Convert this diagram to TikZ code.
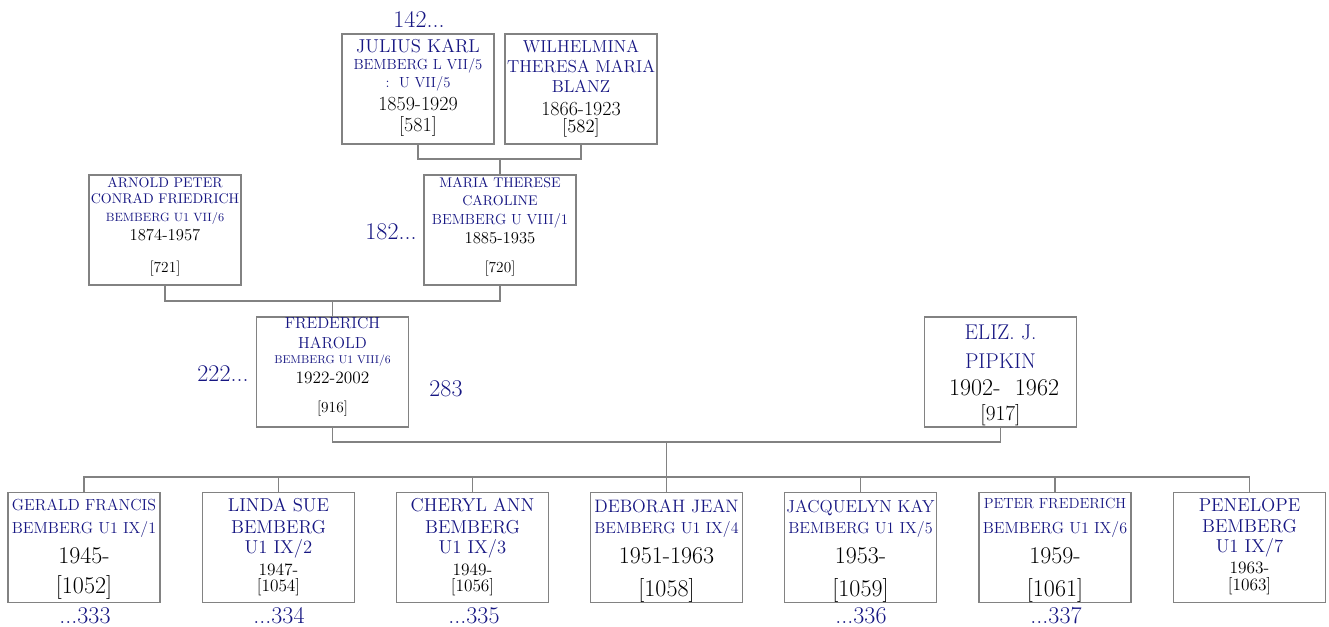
\documentclass[tikz,border=0pt]{standalone}
\usepackage{tikz}
\definecolor{namecol}{RGB}{22,22,130}
\definecolor{boxcol}{RGB}{130,130,130}
\newdimen\pxu \pxu=0.75pt
% name line / date line: size (pt), baseline gap (px), text
\newcommand\nm[3]{\fontsize{#1}{#2\pxu}\selectfont
  \makebox[\linewidth]{\textcolor{namecol}{#3}}\par}
\newcommand\dt[3]{\fontsize{#1}{#2\pxu}\selectfont #3\par}
\newcommand\card[1]{\parbox[c][110\pxu][t]{152\pxu}{\centering
  \lineskiplimit=-\maxdimen\prevdepth=0pt #1}}
\tikzset{
  person/.style={draw=boxcol, line width=1pt, inner sep=0pt},
  link/.style={draw=boxcol, line width=1pt},
  numlab/.style={text=namecol, font=\fontsize{18}{20}\selectfont,
    anchor=base, inner sep=0pt}
}

\begin{document}
\begin{tikzpicture}[x=0.75pt, y=-0.75pt]
  \useasboundingbox (0,0) rectangle (1329,627);

  % Grandparents.
  \node[person] (julius) at (418,89) {\card{\nm{14}{19}{JULIUS KARL}%
    \nm{11}{17}{BEMBERG L VII/5}\nm{11}{18}{:~~U VII/5}%
    \dt{15}{23}{1859-1929}\dt{15}{21}{[581]}}};
  \node[person] (wilhelmina) at (581,89) {\card{\nm{13}{19}{WILHELMINA}%
    \nm{13}{20}{THERESA MARIA}\nm{13}{20}{BLANZ}%
    \dt{15}{23}{1866-1923}\dt{14}{17}{[582]}}};

  % Parents.
  \node[person] (arnold) at (165,230) {\card{\nm{10.5}{13}{ARNOLD PETER}%
    \nm{10.5}{16}{CONRAD FRIEDRICH}\nm{9}{18}{BEMBERG U1 VII/6}%
    \dt{12.5}{19}{1874-1957}\dt{11.5}{32}{[721]}}};
  \node[person] (maria) at (500,230) {\card{\nm{10.5}{13}{MARIA THERESE}%
    \nm{10.5}{18}{CAROLINE}\nm{11}{19}{BEMBERG U VIII/1}%
    \dt{12.5}{19}{1885-1935}\dt{11.5}{29}{[720]}}};

  % Couple.
  \node[person] (frederich) at (332.5,372) {\card{\nm{12}{12}{FREDERICH}%
    \nm{12}{19}{HAROLD}\nm{8.5}{15}{BEMBERG U1 VIII/6}%
    \dt{13}{20}{1922-2002}\dt{11.5}{30}{[916]}}};
  \node[person] (eliz) at (1000.5,372) {\card{\nm{16}{23}{ELIZ. J.}%
    \nm{16}{28}{PIPKIN}\dt{18}{28}{~1902-~~1962}\dt{16}{25}{[917]}}};

  % Children.
  \node[person] (gerald) at (84,547.5) {\card{\nm{12}{18}{GERALD FRANCIS}%
    \nm{12}{23}{BEMBERG U1 IX/1}\dt{18}{30}{1945-}\dt{18}{30}{[1052]}}};
  \node[person] (linda) at (278.5,547.5) {\card{\nm{14}{19}{LINDA SUE}%
    \nm{14}{22}{BEMBERG}\nm{14}{20}{U1 IX/2}%
    \dt{13}{22}{1947-}\dt{13}{16}{[1054]}}};
  \node[person] (cheryl) at (472.5,547.5) {\card{\nm{14}{19}{CHERYL ANN}%
    \nm{14}{22}{BEMBERG}\nm{14}{20}{U1 IX/3}%
    \dt{13}{22}{1949-}\dt{13}{16}{[1056]}}};
  \node[person] (deborah) at (666.5,547.5) {\card{\nm{13.5}{20}{DEBORAH JEAN}%
    \nm{12}{21}{BEMBERG U1 IX/4}\dt{18}{30}{1951-1963}\dt{18}{33}{[1058]}}};
  \node[person] (jacquelyn) at (860.5,547.5) {\card{\nm{13}{20}{JACQUELYN KAY}%
    \nm{12}{21}{BEMBERG U1 IX/5}\dt{18}{30}{1953-}\dt{18}{33}{[1059]}}};
  \node[person] (peter) at (1055,547.5) {\card{\nm{11}{16}{PETER FREDERICH}%
    \nm{12}{25}{BEMBERG U1 IX/6}\dt{18}{30}{1959-}\dt{18}{33}{[1061]}}};
  \node[person] (penelope) at (1249.5,547.5) {\card{\nm{14}{19}{PENELOPE}%
    \nm{14}{21}{BEMBERG}\nm{14}{20}{U1 IX/7}%
    \dt{13}{21}{1963-}\dt{13}{17}{[1063]}}};

  % Family links.
  \coordinate (jw) at (500,159);
  \coordinate (am) at (332.5,301);
  \coordinate (fe) at (666.5,442);
  \coordinate (kids) at (666.5,477);
  \draw[link] (julius.south) |- (jw) -| (wilhelmina.south);
  \draw[link] (jw) -- (maria.north);
  \draw[link] (arnold.south) |- (am) -| (maria.south);
  \draw[link] (am) -- (frederich.north);
  \draw[link] (frederich.south) |- (fe) -| (eliz.south);
  \draw[link] (fe) -- (kids);
  \foreach \kid in {gerald,linda,cheryl,deborah,jacquelyn,peter,penelope} {
    \draw[link] (kids) -| (\kid.north);
  }

  % Page references.
  \node[numlab] (n142) at (419,28) {142...};
  \node[numlab] (n182) at (391,240) {182...};
  \node[numlab] (n222) at (223,382) {222...};
  \node[numlab] (n283) at (446,397) {283};
  \node[numlab] (n333) at (85,623) {...333};
  \node[numlab] (n334) at (279,623) {...334};
  \node[numlab] (n335) at (474,623) {...335};
  \node[numlab] (n336) at (861,623) {...336};
  \node[numlab] (n337) at (1056,623) {...337};

\end{tikzpicture}
\end{document}
